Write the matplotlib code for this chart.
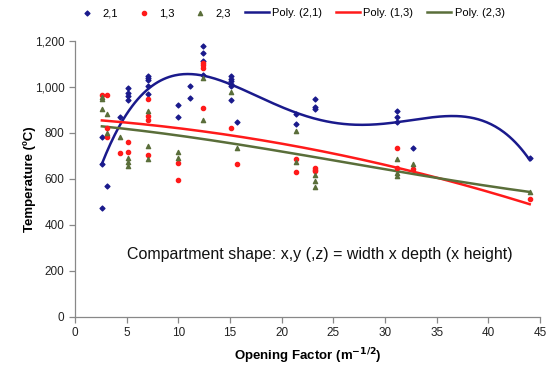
import numpy as np
import matplotlib
matplotlib.use("Agg")
import matplotlib.pyplot as plt
from matplotlib.ticker import FuncFormatter

plt.rcParams['font.family'] = ['Liberation Sans', 'DejaVu Sans']

# Series "2,1"
x21 = [2.6, 2.6, 2.6, 3.1, 4.4, 5.1, 5.1, 5.1, 5.1, 7.1, 7.1, 7.1, 7.1, 7.1,
       10.0, 10.0, 11.1, 11.1, 12.4, 12.4, 12.4, 12.4, 15.1, 15.1, 15.1, 15.1,
       15.1, 15.1, 15.7, 21.4, 21.4, 23.2, 23.2, 23.2, 31.2, 31.2, 31.2, 32.7, 44.0]
y21 = [474, 664, 782, 568, 868, 995, 973, 958, 940, 1045, 1038, 1028, 1002, 968,
       922, 867, 1002, 952, 1178, 1145, 1113, 1053, 1045, 1034, 1023, 1011,
       1002, 940, 845, 882, 838, 948, 911, 905, 893, 869, 845, 734, 692]

# Series "1,3"
x13 = [2.6, 3.1, 3.1, 3.1, 4.4, 5.1, 5.1, 7.1, 7.1, 7.1, 7.1, 10.0, 10.0,
       12.4, 12.4, 12.4, 12.4, 15.1, 15.7, 21.4, 21.4, 23.2, 23.2, 23.2,
       31.2, 31.2, 32.7, 44.0]
y13 = [962, 962, 819, 783, 710, 761, 715, 945, 873, 855, 703, 670, 596,
       1103, 1093, 1082, 908, 820, 666, 687, 628, 646, 638, 632,
       734, 646, 640, 510]

# Series "2,3"
x23 = [2.6, 2.6, 2.6, 3.1, 3.1, 4.4, 5.1, 5.1, 5.1, 7.1, 7.1, 7.1, 10.0, 10.0,
       12.4, 12.4, 15.1, 15.7, 21.4, 21.4, 23.2, 23.2, 23.2, 31.2, 31.2, 31.2,
       32.7, 44.0]
y23 = [955, 945, 902, 881, 800, 783, 689, 674, 655, 896, 742, 684, 717, 691,
       1036, 855, 975, 735, 807, 672, 618, 590, 565, 687, 626, 612,
       662, 540]

series_names = ['2,1', '1,3', '2,3']
trend_names = ['Poly. (2,1)', 'Poly. (1,3)', 'Poly. (2,3)']
trend_orders = [4, 2, 3]

c_blue = '#1a1a8c'
c_red = '#ff1a1a'
c_green = '#5a6e3a'

fig = plt.figure(figsize=(5.57, 3.66), dpi=100)
ax = fig.add_axes([0.1347, 0.1347, 0.8348, 0.7541])

ax.scatter(x21, y21, marker='D', s=6, color=c_blue, zorder=3, label=series_names[0])
ax.scatter(x13, y13, marker='o', s=9, color=c_red, zorder=3, label=series_names[1])
ax.scatter(x23, y23, marker='^', s=9, color=c_green, zorder=3, label=series_names[2])

for xs, ys, order, col, nm in zip([x21, x13, x23], [y21, y13, y23], trend_orders,
                                  [c_blue, c_red, c_green], trend_names):
    p = np.polyfit(xs, ys, order)
    xx = np.linspace(min(xs), max(xs), 300)
    ax.plot(xx, np.polyval(p, xx), color=col, lw=1.8, zorder=2, label=nm)

ax.set_xlim(0, 45)
ax.set_ylim(0, 1200)
ax.set_xticks(np.arange(0, 46, 5))
ax.set_yticks(np.arange(0, 1201, 200))
ax.yaxis.set_major_formatter(FuncFormatter(lambda v, p: f"{int(v):,}"))

for s in ['top', 'right']:
    ax.spines[s].set_visible(False)
for s in ['left', 'bottom']:
    ax.spines[s].set_color('#888888')
    ax.spines[s].set_linewidth(0.9)
ax.tick_params(axis='both', colors='#888888', labelcolor='#222222', labelsize=8.5,
               length=4, width=0.9, direction='out')

ax.set_xlabel('Opening Factor (m$^{\\mathbf{-1/2}}$)', fontsize=9.5, fontweight='bold', labelpad=5)
ax.set_ylabel('Temperature (ºC)', fontsize=9.5, fontweight='bold', labelpad=-1)

ax.text(0.527, 0.225, 'Compartment shape: x,y (,z) = width x depth (x height)',
        transform=ax.transAxes, ha='center', va='center', fontsize=11.5, color='#111111')

fig.legend(loc='upper center', bbox_to_anchor=(0.52, 1.005), ncol=6, frameon=False,
           fontsize=8, handlelength=2.2, handletextpad=0.3, columnspacing=1.2,
           markerscale=1.0)

fig.savefig('out.png', dpi=100)
